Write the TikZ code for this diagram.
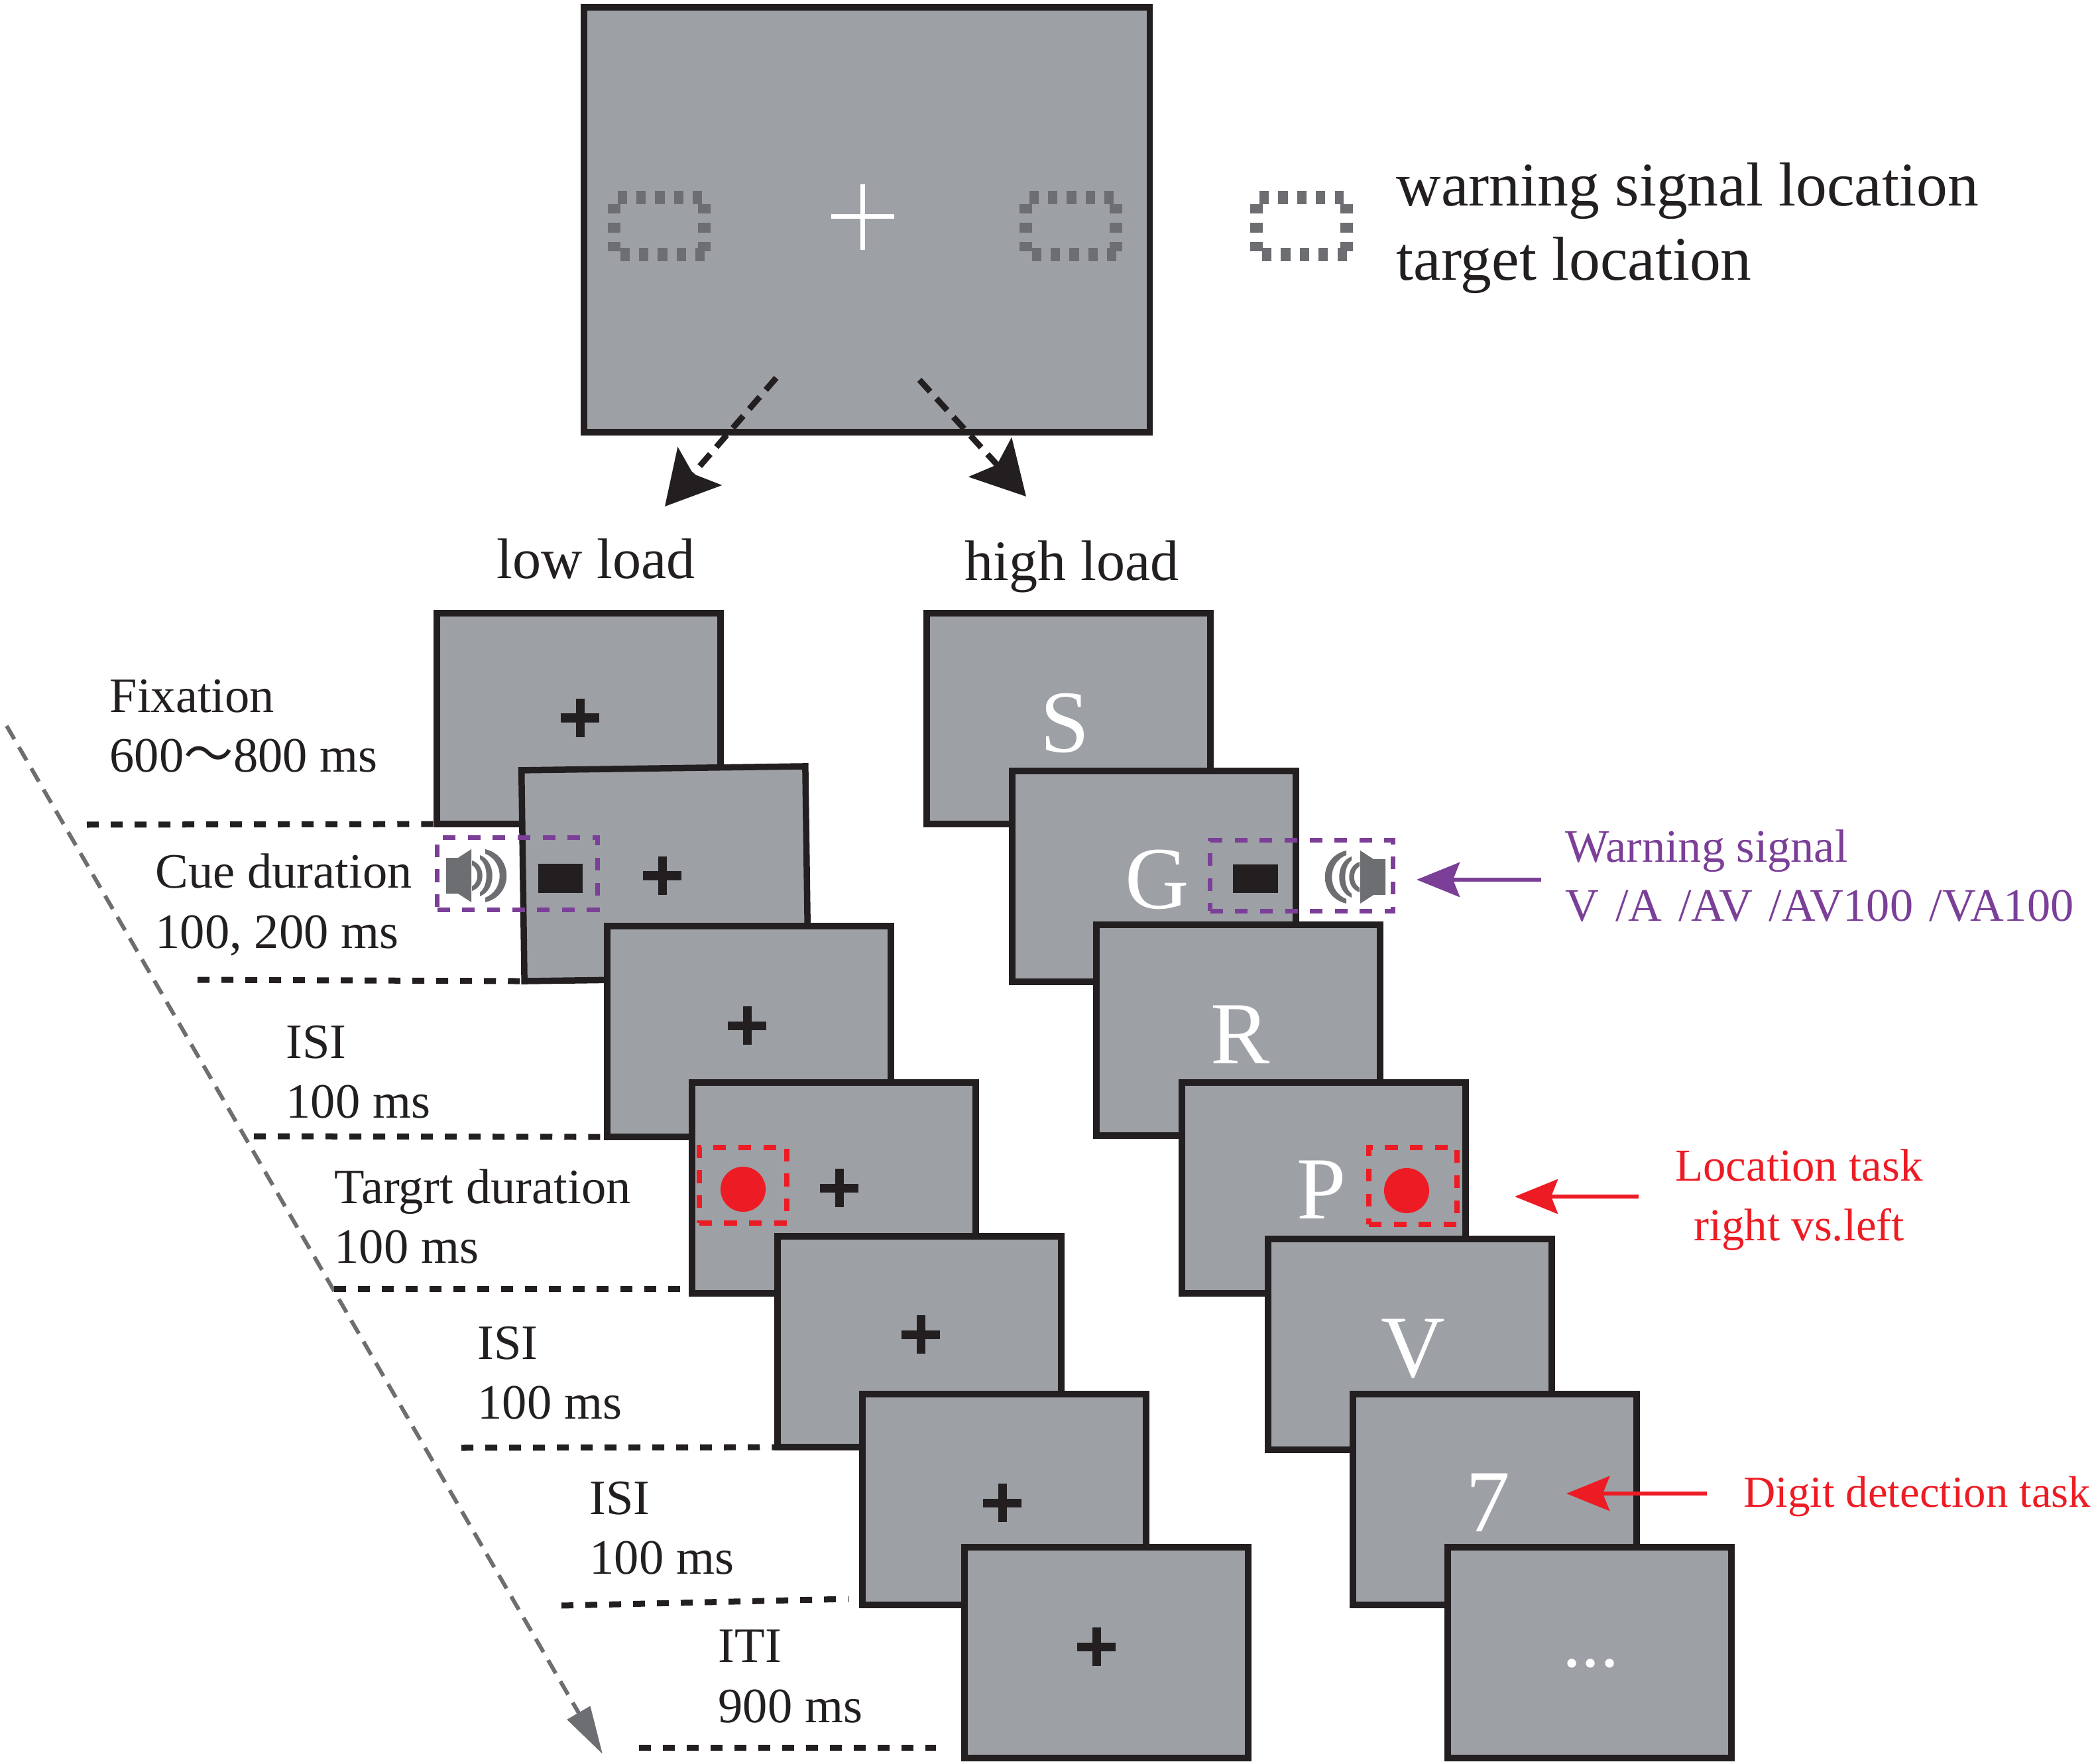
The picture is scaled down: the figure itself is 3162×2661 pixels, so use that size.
\documentclass[tikz,border=0pt]{standalone}
\usepackage{fontspec}
\setmainfont{Liberation Serif}
\newfontfamily\cjk{Noto Sans CJK SC}
\usetikzlibrary{positioning,arrows.meta}
\definecolor{screenclr}{RGB}{157,160,165}
\definecolor{inkclr}{RGB}{35,31,32}
\definecolor{slateclr}{RGB}{109,110,113}
\definecolor{cueclr}{RGB}{123,63,152}
\definecolor{targetclr}{RGB}{237,28,36}
\newcommand{\fsz}[2]{\fontsize{#1}{#2}\selectfont}
\tikzset{
  screen/.style={rectangle,draw=inkclr,fill=screenclr,line width=0.095cm,
                 minimum width=4.28cm,minimum height=3.18cm,inner sep=0pt,outer sep=0pt},
  timeline/.style={draw=inkclr,line width=0.09cm,dash pattern=on 0.18cm off 0.18cm},
  steplabel/.style={align=left,anchor=west,inner sep=0pt,text=inkclr,font=\fsz{21.2}{25.7}},
  loadlabel/.style={inner sep=0pt,text=inkclr,font=\fsz{24.5}{30}},
  letter/.style={inner sep=0pt,text=white,font=\fsz{38}{44}},
  cuebox/.style={rectangle,draw=cueclr,line width=0.07cm,dash pattern=on 0.19cm off 0.185cm,
                 inner sep=0pt,outer sep=0pt},
  targetbox/.style={rectangle,draw=targetclr,line width=0.08cm,dash pattern=on 0.19cm off 0.185cm,
                 inner sep=0pt,outer sep=0pt},
  cuebar/.style={rectangle,fill=inkclr,inner sep=0pt},
  targetdot/.style={circle,fill=targetclr,minimum size=0.68cm,inner sep=0pt},
  loadarrow/.style={draw=inkclr,line width=0.09cm,dash pattern=on 0.24cm off 0.14cm,
                 -{Stealth[length=0.8cm,width=0.87cm,inset=0.15cm]}},
  timearrow/.style={draw=slateclr,line width=0.06cm,dash pattern=on 0.23cm off 0.14cm,
                 -{Triangle[length=0.72cm,width=0.39cm]}},
  taskarrow/.style={line width=0.06cm,-{Stealth[length=0.65cm,width=0.52cm,inset=0.1cm]}},
  fixcross/.pic={
    \draw[inkclr,line width=0.13cm] (-29,0) -- (29,0) (0,-29) -- (0,29);
  },
  locbox/.pic={
    \begin{scope}[slateclr,line width=0.19cm,dash pattern=on 0.142cm off 0.142cm]
    \draw (-63.5,-43) -- (63.5,-43);
    \draw (-59.5,43) -- (68.5,43);
    \draw (-68.5,-33) -- (-68.5,38);
    \draw (67.5,-33) -- (67.5,38);
    \end{scope}
  },
  speaker/.pic={
    \fill[slateclr] (-38,-27) -- (-20,-27) -- (0,-40) -- (0,40) -- (-20,27) -- (-38,27) -- cycle;
    \fill[slateclr] (1,-23) .. controls (22,-16) and (22,16) .. (1,23) -- (1,16)
      .. controls (12,10) and (12,-10) .. (1,-16) -- cycle;
    \fill[slateclr] (13,-31) .. controls (38,-22) and (38,22) .. (13,31) -- (13,25)
      .. controls (26,16) and (26,-16) .. (13,-25) -- cycle;
    \fill[slateclr] (21,-40) .. controls (64,-30) and (64,30) .. (21,40) -- (21,33)
      .. controls (50,22) and (50,-22) .. (21,-33) -- cycle;
  },
}

\begin{document}
\begin{tikzpicture}[x=0.01cm,y=-0.01cm]
\useasboundingbox (0,0) rectangle (3162,2661);

% top screen
\node[screen,minimum width=8.53cm,minimum height=6.41cm] (main) at (1307.5,331.5) {};
\draw[white,line width=0.07cm] (1254,327) -- (1349,327) (1301,278) -- (1301,377);
\pic at (995,341) {locbox};
\pic at (1616,341) {locbox};
\pic at (1963.5,341) {locbox};
\node[align=left,anchor=west,inner sep=0pt,text=inkclr,font=\fsz{26.6}{32}] (legend) at (2106,344)
  {warning signal location\\target location};

\coordinate (lowfrom) at (1171,570);
\coordinate (lowto) at (1003,764);
\coordinate (highfrom) at (1387,573);
\coordinate (highto) at (1548,749);
\draw[loadarrow] (lowfrom) -- (lowto);
\draw[loadarrow] (highfrom) -- (highto);
\node[loadlabel] (lowload) at (899,843) {low load};
\node[loadlabel] (highload) at (1617,855) {high load};

% low load
\node[screen] (low1) at (873,1084) {};
\pic at (875,1083) {fixcross};
\node[screen,rotate=0.8] (low2) at (1003,1318) {};
\pic at (999,1321) {fixcross};
\node[cuebar,minimum width=0.67cm,minimum height=0.44cm] (lowbar) at (845.5,1325) {};
\node[cuebox,minimum width=2.41cm,minimum height=1.08cm] (lowcue) at (780.5,1318) {};
\pic at (711,1321) {speaker};
\node[screen] (low3) at (1130,1556) {};
\pic at (1127,1547) {fixcross};
\node[screen] (low4) at (1258,1792) {};
\pic at (1266,1792) {fixcross};
\node[targetbox,minimum width=1.32cm,minimum height=1.14cm] (lowtarget) at (1121,1788) {};
\node[targetdot] (lowdot) at (1121,1794) {};
\node[screen] (low5) at (1387,2024) {};
\pic at (1389,2013) {fixcross};
\node[screen] (low6) at (1515,2262) {};
\pic at (1512,2267) {fixcross};
\node[screen] (low7) at (1669,2493) {};
\pic at (1654,2484) {fixcross};

% high load
\node[screen] (high1) at (1612,1084) {};
\node[letter] (letS) at (1607,1091) {S};
\node[screen] (high2) at (1741,1322) {};
\node[letter] (letG) at (1746,1327) {G};
\node[cuebar,minimum width=0.68cm,minimum height=0.43cm] (highbar) at (1894,1325.5) {};
\node[cuebox,minimum width=2.75cm,minimum height=1.06cm] (highcue) at (1963.5,1321) {};
\pic[xscale=-1] at (2052,1323) {speaker};
\node[screen] (high3) at (1868,1554) {};
\node[letter] (letR) at (1871,1561) {R};
\node[screen] (high4) at (1997,1792) {};
\node[letter] (letP) at (1994,1795) {P};
\node[targetbox,minimum width=1.33cm,minimum height=1.15cm] (hightarget) at (2131.5,1789) {};
\node[targetdot] (highdot) at (2122,1796) {};
\node[screen] (high5) at (2127,2028) {};
\node[letter] (letV) at (2132,2035) {V};
\node[screen] (high6) at (2255,2262) {};
\node[letter] (let7) at (2245,2267) {7};
\node[screen] (high7) at (2398,2493) {};
\node[letter,font=\fsz{32}{38}] (letdots) at (2400,2509) {...};

% time course
\coordinate (timefrom) at (10,1095);
\coordinate (timeto) at (909,2646);
\draw[timearrow] (timefrom) -- (timeto);
\coordinate (t1) at (131,1244);
\coordinate (t2) at (298,1478);
\coordinate (t3) at (383,1714);
\coordinate (t4) at (504,1944);
\coordinate (t5) at (696,2184);
\coordinate (t6) at (847,2422);
\coordinate (t6e) at (1280,2412);
\coordinate (t7) at (964,2636);
\coordinate (t7e) at (1412,2636);
\draw[timeline] (t1) -- (low1.south west);
\draw[timeline] (t2) -- (low2.south west);
\draw[timeline] (t3) -- (low3.south west);
\draw[timeline] (t4) -- (t4 -| low4.west);
\draw[timeline] (t5) -- (low5.south west);
\draw[timeline] (t6) -- (t6e);
\draw[timeline] (t7) -- (t7e);
\node[steplabel] (fix) at (165,1095) {Fixation\\600{\cjk ～}800 ms};
\node[steplabel] (cue) at (234,1365) {Cue duration\\100, 200 ms};
\node[steplabel] (isi1) at (431,1617) {ISI\\100 ms};
\node[steplabel] (tgt) at (504,1835) {Targrt duration\\100 ms};
\node[steplabel] (isi2) at (720,2071) {ISI\\100 ms};
\node[steplabel] (isi3) at (889,2305) {ISI\\100 ms};
\node[steplabel] (iti) at (1083,2529) {ITI\\900 ms};

% task notes
\node[align=left,anchor=west,inner sep=0pt,text=cueclr,font=\fsz{20}{25.5}] (warn) at (2361,1321)
  {Warning signal\\{\spaceskip=0.35em V /A /AV /AV100 /VA100}};
\coordinate (warnfrom) at (2325,1327);
\coordinate (warnto) at (2137,1327);
\draw[taskarrow,cueclr] (warnfrom) -- (warnto);
\node[align=center,inner sep=0pt,text=targetclr,font=\fsz{19.6}{25.5}] (loc) at (2714,1810)
  {Location task\\right vs.left};
\coordinate (locfrom) at (2472,1805);
\coordinate (locto) at (2285,1805);
\draw[taskarrow,targetclr] (locfrom) -- (locto);
\node[anchor=west,inner sep=0pt,text=targetclr,font=\fsz{19}{24}] (digit) at (2630,2258)
  {Digit detection task};
\coordinate (digfrom) at (2575,2253);
\coordinate (digto) at (2363,2253);
\draw[taskarrow,targetclr] (digfrom) -- (digto);
\end{tikzpicture}
\end{document}
